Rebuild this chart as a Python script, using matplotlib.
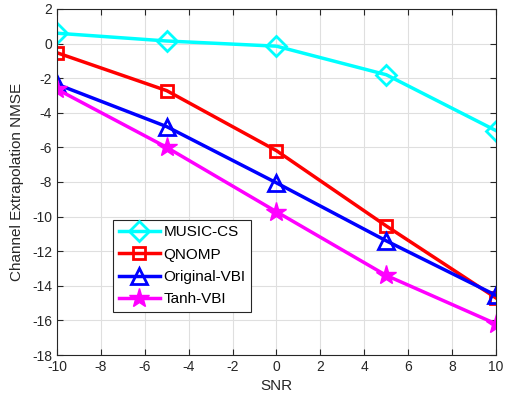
import matplotlib
matplotlib.use("Agg")
import matplotlib.pyplot as plt

snr = [-10, -5, 0, 5, 10]
music_cs = [0.6, 0.15, -0.15, -1.8, -5.03]
qnomp = [-0.53, -2.72, -6.19, -10.54, -14.7]
orig_vbi = [-2.35, -4.8, -8.05, -11.4, -14.55]
tanh_vbi = [-2.64, -6.0, -9.72, -13.4, -16.2]
xticks = list(range(-10, 11, 2))
yticks = list(range(-18, 3, 2))

plt.rcParams['font.family'] = ['Liberation Sans', 'DejaVu Sans']
plt.rcParams['axes.unicode_minus'] = False
fig = plt.figure(figsize=(5.06, 4.01), dpi=100)
ax = fig.add_axes([0.1126, 0.1147, 0.8676, 0.8629])

ax.plot(snr, music_cs, color='#00FFFF', lw=2.5, marker='D', ms=10, mfc='none', mew=2, label='MUSIC-CS')
ax.plot(snr, qnomp, color='#FF0000', lw=2.5, marker='s', ms=9, mfc='none', mew=2, label='QNOMP')
ax.plot(snr, orig_vbi, color='#0000FF', lw=2.5, marker='^', ms=12, mfc='none', mew=2, label='Original-VBI')
ax.plot(snr, tanh_vbi, color='#FF00FF', lw=2.5, marker='*', ms=15, mfc='#FF00FF', mew=1, label='Tanh-VBI')

ax.set_xlim(-10, 10)
ax.set_ylim(-18, 2)
ax.set_xticks(xticks)
ax.set_yticks(yticks)
ax.grid(True, color='#DFDFDF', lw=0.8)
ax.set_axisbelow(True)
ax.tick_params(direction='in', length=4, labelsize=10, colors='#262626', top=True, right=True, labeltop=False, labelright=False)
for s in ax.spines.values():
    s.set_color('#262626')
    s.set_linewidth(0.8)
ax.set_xlabel('SNR', fontsize=11, color='#262626')
ax.set_ylabel('Channel Extrapolation NMSE', fontsize=11, color='#262626', labelpad=6)

leg = ax.legend(loc='lower left', bbox_to_anchor=(0.128, 0.125), fontsize=11, fancybox=False,
                framealpha=1, edgecolor='#262626', borderpad=0.35, labelspacing=0.55,
                handlelength=2.7, handletextpad=0.25, borderaxespad=0)
leg.get_frame().set_linewidth(0.8)

fig.savefig('out.png', dpi=100)
